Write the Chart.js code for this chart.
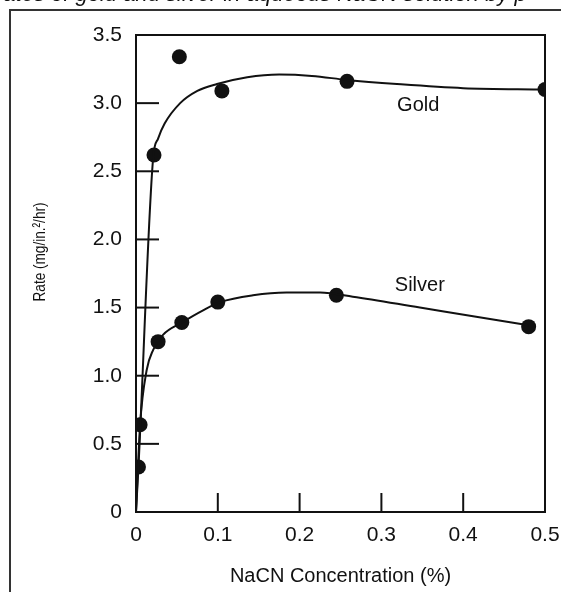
<!DOCTYPE html>
<html>
<head>
<meta charset="utf-8">
<script src="https://cdn.jsdelivr.net/npm/chart.js@4.4.0/dist/chart.umd.min.js"></script>
<style>
html,body{margin:0;padding:0;background:#fff;}
#wrap{position:relative;width:561px;height:592px;overflow:hidden;}
#cap{position:absolute;left:-4px;top:-19px;white-space:nowrap;font:italic 22px "Liberation Sans",Arial,sans-serif;color:#111;}
</style>
</head>
<body>
<div id="wrap">
<div id="cap">rates of gold and silver in aqueous NaCN solution by p</div>
<canvas id="c" width="561" height="592"></canvas>
</div>
<script>
// Measured points
const goldX = [0.003, 0.022, 0.053, 0.105, 0.258, 0.5];
const goldY = [0.33, 2.62, 3.34, 3.09, 3.16, 3.10];
const silverX = [0.005, 0.027, 0.056, 0.10, 0.245, 0.48];
const silverY = [0.64, 1.25, 1.39, 1.54, 1.59, 1.36];
// Fitted curves
const goldCurveX = [0, 0.003, 0.021, 0.027, 0.035, 0.054, 0.075, 0.099, 0.136, 0.175, 0.215, 0.258, 0.319, 0.40, 0.5];
const goldCurveY = [0, 0.33, 2.60, 2.74, 2.85, 3.00, 3.09, 3.14, 3.19, 3.21, 3.20, 3.17, 3.14, 3.11, 3.10];
const silverCurveX = [0, 0.005, 0.013, 0.021, 0.033, 0.056, 0.082, 0.103, 0.143, 0.184, 0.225, 0.265, 0.347, 0.429, 0.48];
const silverCurveY = [0, 0.64, 1.04, 1.19, 1.30, 1.39, 1.48, 1.54, 1.59, 1.61, 1.61, 1.58, 1.50, 1.42, 1.37];
const xTicks = [0, 0.1, 0.2, 0.3, 0.4, 0.5];
const yTicks = [0, 0.5, 1.0, 1.5, 2.0, 2.5, 3.0, 3.5];
const seriesLabels = [{text:'Gold', x:0.345, y:2.98}, {text:'Silver', x:0.347, y:1.66}];
const xTitle = 'NaCN Concentration (%)';
const yTitle = 'Rate (mg/in.²/hr)';

const toPts = (xs, ys) => xs.map((x, i) => ({x, y: ys[i]}));
const INK = '#111';
const FONT = '"Liberation Sans", Arial, sans-serif';

const decor = {
  id: 'decor',
  afterDraw(chart) {
    const ctx = chart.ctx, a = chart.chartArea;
    const xs = chart.scales.x, ys = chart.scales.y;
    ctx.save();
    // outer frame
    ctx.strokeStyle = '#333'; ctx.lineWidth = 2;
    ctx.beginPath(); ctx.moveTo(10, 592); ctx.lineTo(10, 10); ctx.lineTo(561, 10); ctx.stroke();
    // plot frame top/right
    ctx.strokeStyle = INK; ctx.lineWidth = 2;
    ctx.beginPath(); ctx.moveTo(a.left, a.top); ctx.lineTo(a.right, a.top); ctx.lineTo(a.right, a.bottom); ctx.stroke();
    // inward ticks
    yTicks.forEach(v => {
      if (v <= 0 || v >= 3.5) return;
      const p = ys.getPixelForValue(v);
      ctx.beginPath(); ctx.moveTo(a.left, p); ctx.lineTo(a.left + 23, p); ctx.stroke();
    });
    xTicks.forEach(v => {
      if (v <= 0 || v >= 0.5) return;
      const p = xs.getPixelForValue(v);
      ctx.beginPath(); ctx.moveTo(p, a.bottom); ctx.lineTo(p, a.bottom - 19); ctx.stroke();
    });
    // series labels
    ctx.fillStyle = INK; ctx.font = '20px ' + FONT; ctx.textAlign = 'center'; ctx.textBaseline = 'middle';
    seriesLabels.forEach(l => ctx.fillText(l.text, xs.getPixelForValue(l.x), ys.getPixelForValue(l.y)));
    // y title
    ctx.translate(40, 252); ctx.rotate(-Math.PI / 2); ctx.scale(0.8, 1);
    ctx.font = '17px ' + FONT;
    ctx.fillText(yTitle, 0, 0);
    ctx.restore();
  }
};

new Chart(document.getElementById('c'), {
  type: 'scatter',
  data: {
    datasets: [
      {data: toPts(goldCurveX, goldCurveY), showLine: true, pointRadius: 0, borderColor: INK, borderWidth: 2, cubicInterpolationMode: 'monotone', fill: false},
      {data: toPts(silverCurveX, silverCurveY), showLine: true, pointRadius: 0, borderColor: INK, borderWidth: 2, cubicInterpolationMode: 'monotone', fill: false},
      {data: toPts(goldX, goldY), showLine: false, pointRadius: 7.5, backgroundColor: INK, borderColor: INK, borderWidth: 0},
      {data: toPts(silverX, silverY), showLine: false, pointRadius: 7.5, backgroundColor: INK, borderColor: INK, borderWidth: 0}
    ]
  },
  options: {
    responsive: false,
    animation: false,
    devicePixelRatio: 1,
    layout: {padding: {left: 0, right: 16, top: 35, bottom: 0}},
    plugins: {legend: {display: false}, tooltip: {enabled: false}},
    scales: {
      x: {
        type: 'linear', min: 0, max: 0.5,
        afterBuildTicks: s => { s.ticks = xTicks.map(v => ({value: v})); },
        afterFit: s => { s.height = 80; s.paddingLeft = 0; s.paddingRight = 0; },
        grid: {display: false, drawTicks: false},
        border: {display: true, color: INK, width: 2},
        ticks: {padding: 11, color: INK, font: {family: FONT, size: 21}, maxRotation: 0, autoSkip: false,
          callback: v => v === 0 ? '0' : v.toFixed(1)},
        title: {display: true, text: xTitle, color: INK, font: {family: FONT, size: 20}, padding: {top: 0, bottom: 4}}
      },
      y: {
        type: 'linear', min: 0, max: 3.5,
        afterBuildTicks: s => { s.ticks = yTicks.map(v => ({value: v})); },
        afterFit: s => { s.width = 136; s.paddingTop = 0; s.paddingBottom = 0; },
        grid: {display: false, drawTicks: false},
        border: {display: true, color: INK, width: 2},
        ticks: {padding: 14, color: INK, font: {family: FONT, size: 21}, autoSkip: false,
          callback: v => v === 0 ? '0' : v.toFixed(1)}
      }
    }
  },
  plugins: [decor]
});
</script>
</body>
</html>
